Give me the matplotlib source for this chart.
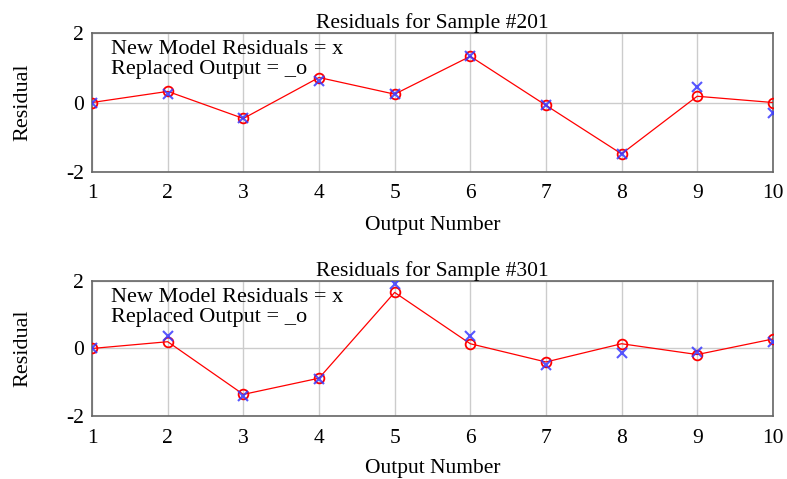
import matplotlib
matplotlib.use("Agg")
import matplotlib.pyplot as plt

outputs = [1, 2, 3, 4, 5, 6, 7, 8, 9, 10]
x_ticks = [1, 2, 3, 4, 5, 6, 7, 8, 9, 10]
y_ticks = [-2, 0, 2]

titles = ["Residuals for Sample #201", "Residuals for Sample #301"]

replaced_201 = [0.0, 0.32, -0.46, 0.72, 0.24, 1.33, -0.08, -1.48, 0.18, 0.0]
newmodel_201 = [0.0, 0.24, -0.44, 0.62, 0.24, 1.33, -0.08, -1.48, 0.44, -0.30]

replaced_301 = [0.0, 0.20, -1.36, -0.88, 1.66, 0.14, -0.40, 0.14, -0.18, 0.28]
newmodel_301 = [0.0, 0.38, -1.42, -0.90, 1.92, 0.38, -0.48, -0.12, -0.10, 0.20]

plt.rcParams['font.family'] = ['Liberation Serif', 'DejaVu Serif']
plt.rcParams['axes.unicode_minus'] = False

fig = plt.figure(figsize=(7.87, 4.79), dpi=100)

positions = [[0.117, 0.641, 0.865, 0.290], [0.117, 0.1315, 0.865, 0.282]]
data = [(replaced_201, newmodel_201), (replaced_301, newmodel_301)]

for pos, title, (rep, new) in zip(positions, titles, data):
    ax = fig.add_axes(pos)
    ax.plot(outputs, rep, color='red', lw=0.9, zorder=3)
    ax.plot(outputs, rep, linestyle='none', marker='o', markersize=7,
            markerfacecolor='none', markeredgecolor='red', markeredgewidth=1.3, zorder=4)
    ax.plot(outputs, new, linestyle='none', marker='x', markersize=7,
            color='#3a3aff', markeredgewidth=1.5, alpha=0.85, zorder=5)
    ax.set_xlim(1, 10)
    ax.set_ylim(-2, 2)
    ax.set_xticks(x_ticks)
    ax.set_yticks(y_ticks)
    ax.grid(True, color='#cccccc', lw=1.0)
    ax.set_axisbelow(True)
    ax.tick_params(length=0, labelsize=15.5)
    ax.tick_params(axis='x', pad=9)
    ax.tick_params(axis='y', pad=6)
    for s in ax.spines.values():
        s.set_color('#666666')
        s.set_linewidth(1.2)
    ax.set_title(title, fontsize=15.5, pad=3)
    ax.set_xlabel("Output Number", fontsize=15.5)
    ax.set_ylabel("Residual", fontsize=16)
    ax.xaxis.set_label_coords(0.5, -0.32)
    ax.yaxis.set_label_coords(-0.088, 0.5)
    ax.text(0.028, 0.95, "New Model Residuals = x\nReplaced Output = _o",
            transform=ax.transAxes, fontsize=16, va='top', ha='left',
            linespacing=1.1)

fig.savefig("out.png", dpi=100)
